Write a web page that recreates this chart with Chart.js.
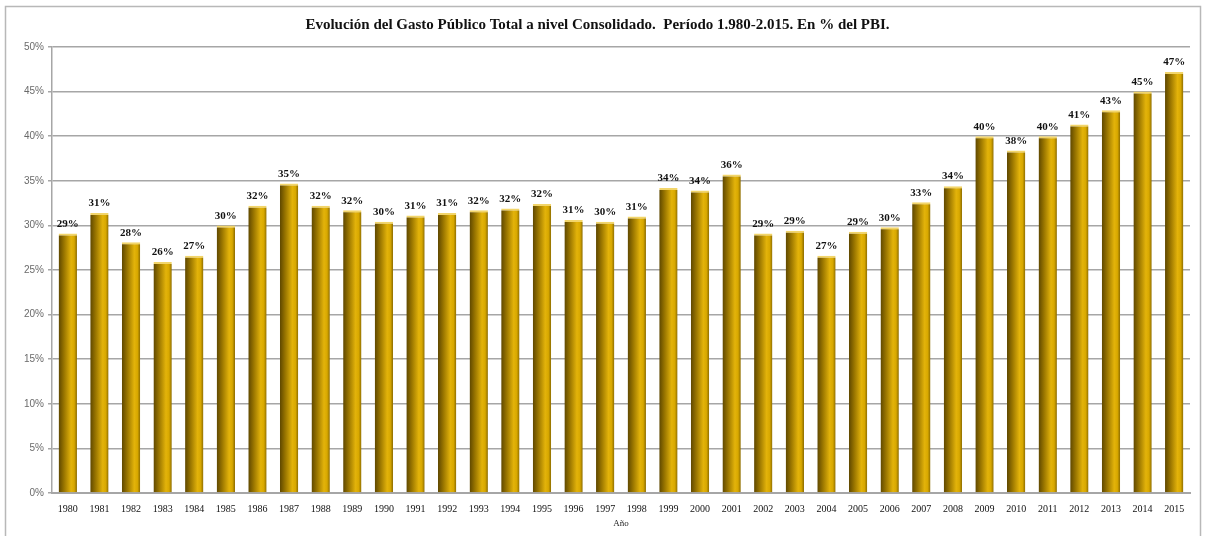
<!DOCTYPE html>
<html>
<head>
<meta charset="utf-8">
<script src="https://cdn.jsdelivr.net/npm/chart.js@4"></script>
<style>
  body { margin: 0; background: #fff; }
</style>
</head>
<body>
<canvas id="chart" width="1208" height="536"></canvas>
<script>
const years = ['1980', '1981', '1982', '1983', '1984', '1985', '1986', '1987', '1988', '1989',
  '1990', '1991', '1992', '1993', '1994', '1995', '1996', '1997', '1998', '1999',
  '2000', '2001', '2002', '2003', '2004', '2005', '2006', '2007', '2008', '2009',
  '2010', '2011', '2012', '2013', '2014', '2015'];

// gasto publico consolidado, % del PBI
const gasto = [29.1, 31.4, 28.1, 25.9, 26.6, 30.0, 32.2, 34.7, 32.2, 31.7,
  30.4, 31.1, 31.4, 31.7, 31.9, 32.4, 30.6, 30.4, 31.0, 34.2,
  33.9, 35.7, 29.1, 29.4, 26.6, 29.3, 29.8, 32.6, 34.4, 40.0,
  38.4, 40.0, 41.3, 42.9, 45.0, 47.2];

const yTicks = [0, 5, 10, 15, 20, 25, 30, 35, 40, 45, 50];

const barShare = 0.58;

// gold cylinder look, one gradient per bar
function barGradient(context) {
  const chart = context.chart;
  const xScale = chart.scales.x;
  if (!chart.chartArea || !xScale) return '#d4a500';
  const x = xScale.getPixelForValue(context.dataIndex);
  const w = (chart.chartArea.width / years.length) * barShare;
  const g = chart.ctx.createLinearGradient(x - w / 2, 0, x + w / 2, 0);
  g.addColorStop(0, '#5e4700');
  g.addColorStop(0.3, '#9a7600');
  g.addColorStop(0.68, '#e3b30a');
  g.addColorStop(0.85, '#d8a800');
  g.addColorStop(1, '#8a6a00');
  return g;
}

const frame = {
  id: 'frame',
  beforeDraw(chart) {
    const ctx = chart.ctx;
    ctx.save();
    ctx.strokeStyle = '#b8b8b8';
    ctx.lineWidth = 1.5;
    ctx.strokeRect(5.5, 6.5, 1195, 540);
    ctx.restore();
  }
};

const barLabels = {
  id: 'barLabels',
  afterDatasetsDraw(chart) {
    const ctx = chart.ctx;
    const meta = chart.getDatasetMeta(0);
    ctx.save();
    ctx.font = 'bold 11px "Liberation Serif", "Times New Roman", serif';
    ctx.fillStyle = '#111';
    ctx.textAlign = 'center';
    ctx.textBaseline = 'bottom';
    meta.data.forEach(function(bar, i) {
      ctx.fillText(Math.round(gasto[i]) + '%', bar.x, bar.y - 4);
    });
    ctx.restore();
  }
};

new Chart(document.getElementById('chart'), {
  type: 'bar',
  data: {
    labels: years,
    datasets: [
      {
        label: 'Gasto Público Total',
        data: gasto,
        backgroundColor: barGradient,
        borderColor: '#f2d56a',
        borderWidth: { top: 2, left: 0, right: 0, bottom: 0 },
        borderSkipped: 'bottom',
        barPercentage: 0.58,
        categoryPercentage: 1
      }
    ]
  },
  options: {
    responsive: false,
    animation: false,
    devicePixelRatio: 1,
    layout: { padding: { left: 5, right: 18, top: 0, bottom: 0 } },
    plugins: {
      legend: { display: false },
      tooltip: { enabled: false },
      title: {
        display: true,
        text: 'Evolución del Gasto Público Total a nivel Consolidado.  Período 1.980-2.015. En % del PBI.',
        color: '#111',
        font: { family: '"Liberation Serif", "Times New Roman", serif', size: 15, weight: 'bold' },
        padding: { top: 16, bottom: 13 }
      }
    },
    scales: {
      x: {
        grid: { display: false, drawTicks: false },
        border: { color: '#a6a6a6', width: 2 },
        ticks: {
          color: '#111',
          padding: 10,
          maxRotation: 0,
          autoSkip: false,
          font: { family: '"Liberation Serif", "Times New Roman", serif', size: 10 }
        },
        title: {
          display: true,
          text: 'Año',
          color: '#222',
          font: { family: '"Liberation Serif", "Times New Roman", serif', size: 9 },
          padding: { top: 0, bottom: 7 }
        },
        afterFit: function(scale) { scale.height = 43; }
      },
      y: {
        min: 0,
        max: 50,
        afterBuildTicks: function(scale) {
          scale.ticks = yTicks.map(function(v) { return { value: v }; });
        },
        grid: { color: '#a6a6a6', lineWidth: 1.5, tickLength: 4 },
        border: { color: '#a6a6a6', width: 1.5 },
        ticks: {
          color: '#6a6a6a',
          padding: 4,
          font: { family: '"Liberation Sans", Arial, sans-serif', size: 10 },
          callback: function(v) { return v + '%'; }
        },
        afterFit: function(scale) { scale.width = 47; }
      }
    }
  },
  plugins: [frame, barLabels]
});
</script>
</body>
</html>
